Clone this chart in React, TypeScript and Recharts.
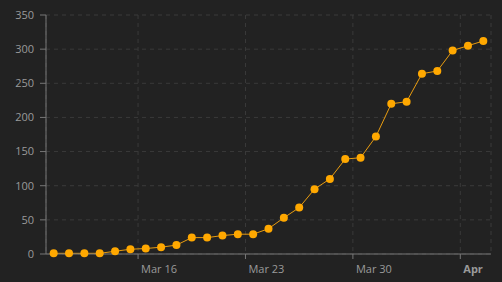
import React from 'react';
import { LineChart, Line, XAxis, YAxis, CartesianGrid } from 'recharts';

const categories = [
  'Mar 10', 'Mar 11', 'Mar 12', 'Mar 13', 'Mar 14', 'Mar 15', 'Mar 16', 'Mar 17', 'Mar 18', 'Mar 19',
  'Mar 20', 'Mar 21', 'Mar 22', 'Mar 23', 'Mar 24', 'Mar 25', 'Mar 26', 'Mar 27', 'Mar 28', 'Mar 29',
  'Mar 30', 'Mar 31', 'Apr 1', 'Apr 2', 'Apr 3', 'Apr 4', 'Apr 5', 'Apr 6', 'Apr 7',
];
const cases = [
  1, 1, 1, 1, 4, 7, 8, 10, 13, 24,
  24, 27, 29, 29, 37, 53, 68, 95, 110, 139,
  141, 172, 220, 223, 264, 268, 298, 305, 312,
];
const xTickPositions = [6, 13, 20, 27];
const xTickLabels = ['Mar 16', 'Mar 23', 'Mar 30', 'Apr'];
const xTickBold = [false, false, false, true];
const yTicks = [0, 50, 100, 150, 200, 250, 300, 350];

const data = categories.map((c, i) => ({ day: i + 0.5, label: c, value: cases[i] }));

const FONT = '"Open Sans", "Noto Sans", sans-serif';

const XTick = (props: any) => {
  const { x, y, payload } = props;
  const idx = xTickPositions.indexOf(payload.value);
  return (
    <text
      x={x + 3}
      y={y + 12}
      textAnchor="start"
      fill="#9a9a9a"
      fontSize={11}
      fontFamily={FONT}
      fontWeight={xTickBold[idx] ? 'bold' : 'normal'}
    >
      {xTickLabels[idx]}
    </text>
  );
};

export default function App() {
  return (
    <div style={{ position: 'absolute', left: 0, top: 0, width: 502, height: 282, background: '#222222' }}>
      <LineChart width={502} height={282} data={data} margin={{ top: 15, right: 11, left: 0, bottom: 0 }}>
        <CartesianGrid stroke="#3a3a3a" strokeDasharray="4 4" />
        <XAxis
          type="number"
          dataKey="day"
          domain={[0, 29]}
          ticks={xTickPositions}
          height={28}
          tickSize={5}
          axisLine={{ stroke: '#777777' }}
          tickLine={{ stroke: '#777777' }}
          tick={<XTick />}
          interval={0}
        />
        <YAxis
          type="number"
          domain={[0, 350]}
          ticks={yTicks}
          width={46}
          tickSize={6}
          tickMargin={6}
          axisLine={{ stroke: '#777777' }}
          tickLine={{ stroke: '#777777' }}
          tick={{ fill: '#9a9a9a', fontSize: 11, fontFamily: FONT }}
          interval={0}
        />
        <Line
          type="linear"
          dataKey="value"
          stroke="#e89c10"
          strokeWidth={1}
          dot={{ r: 4, fill: '#ffa800', stroke: 'none' }}
          activeDot={false}
          isAnimationActive={false}
        />
      </LineChart>
    </div>
  );
}
